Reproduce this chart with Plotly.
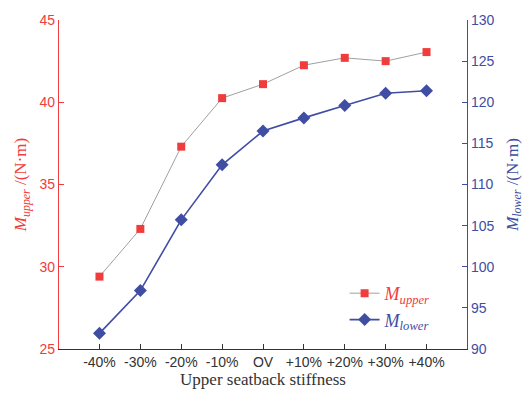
import plotly.graph_objects as go

categories = ["-40%", "-30%", "-20%", "-10%", "OV", "+10%", "+20%", "+30%", "+40%"]
m_upper = [29.4, 32.3, 37.3, 40.25, 41.1, 42.25, 42.7, 42.5, 43.05]
m_lower = [91.9, 97.1, 105.7, 112.4, 116.5, 118.1, 119.6, 121.1, 121.4]

RED = "#f03c3c"
BLUE = "#3f4da3"
GRAY = "#333333"

xi = list(range(len(categories)))

fig = go.Figure()
fig.add_trace(go.Scatter(
    x=xi, y=m_upper, mode="lines+markers",
    name="<span style='color:%s'><i>M<sub>upper</sub></i></span>" % RED,
    line=dict(color="#a0a0a0", width=1),
    marker=dict(symbol="square", size=8, color=RED),
))
fig.add_trace(go.Scatter(
    x=xi, y=m_lower, mode="lines+markers", yaxis="y2",
    name="<span style='color:%s'><i>M<sub>lower</sub></i></span>" % BLUE,
    line=dict(color=BLUE, width=1.6),
    marker=dict(symbol="diamond", size=10, color=BLUE),
))

fig.update_layout(
    width=530, height=396,
    margin=dict(l=59, r=56, t=16, b=46),
    paper_bgcolor="white", plot_bgcolor="white",
    showlegend=True,
    legend=dict(
        x=0.70, y=0.225, xanchor="left", yanchor="top",
        bgcolor="rgba(0,0,0,0)",
        font=dict(family="Liberation Serif, Times New Roman, serif", size=18),
        tracegroupgap=0, itemwidth=30,
    ),
    xaxis=dict(
        range=[-0.99, 8.99],
        tickmode="array", tickvals=xi, ticktext=categories,
        ticks="inside", ticklen=5, tickcolor=GRAY, tickwidth=1,
        showline=True, linecolor=GRAY, linewidth=1,
        showgrid=False, zeroline=False,
        tickfont=dict(family="Liberation Sans, Arial, sans-serif", size=14, color=GRAY),
        title=dict(text="Upper seatback stiffness", standoff=2,
                   font=dict(family="Liberation Serif, Times New Roman, serif", size=17, color=GRAY)),
    ),
    yaxis=dict(
        range=[25, 45], tickvals=[25, 30, 35, 40, 45],
        ticks="inside", ticklen=5, tickcolor=RED, tickwidth=1,
        showline=True, linecolor=RED, linewidth=1.2,
        showgrid=False, zeroline=False,
        tickfont=dict(family="Liberation Sans, Arial, sans-serif", size=14, color=RED),
        title=dict(text="<i>M<sub>upper</sub></i> /(N·m)", standoff=8,
                   font=dict(family="Liberation Serif, Times New Roman, serif", size=17, color=RED)),
    ),
    yaxis2=dict(
        range=[90, 130], tickvals=[90, 95, 100, 105, 110, 115, 120, 125, 130],
        overlaying="y", side="right",
        ticks="inside", ticklen=5, tickcolor=BLUE, tickwidth=1,
        showline=True, linecolor=BLUE, linewidth=1.2,
        showgrid=False, zeroline=False,
        tickfont=dict(family="Liberation Sans, Arial, sans-serif", size=14, color=BLUE),
        title=dict(text="<i>M<sub>lower</sub></i> /(N·m)", standoff=12,
                   font=dict(family="Liberation Serif, Times New Roman, serif", size=17, color=BLUE)),
    ),
)

fig.write_html("out.html")
